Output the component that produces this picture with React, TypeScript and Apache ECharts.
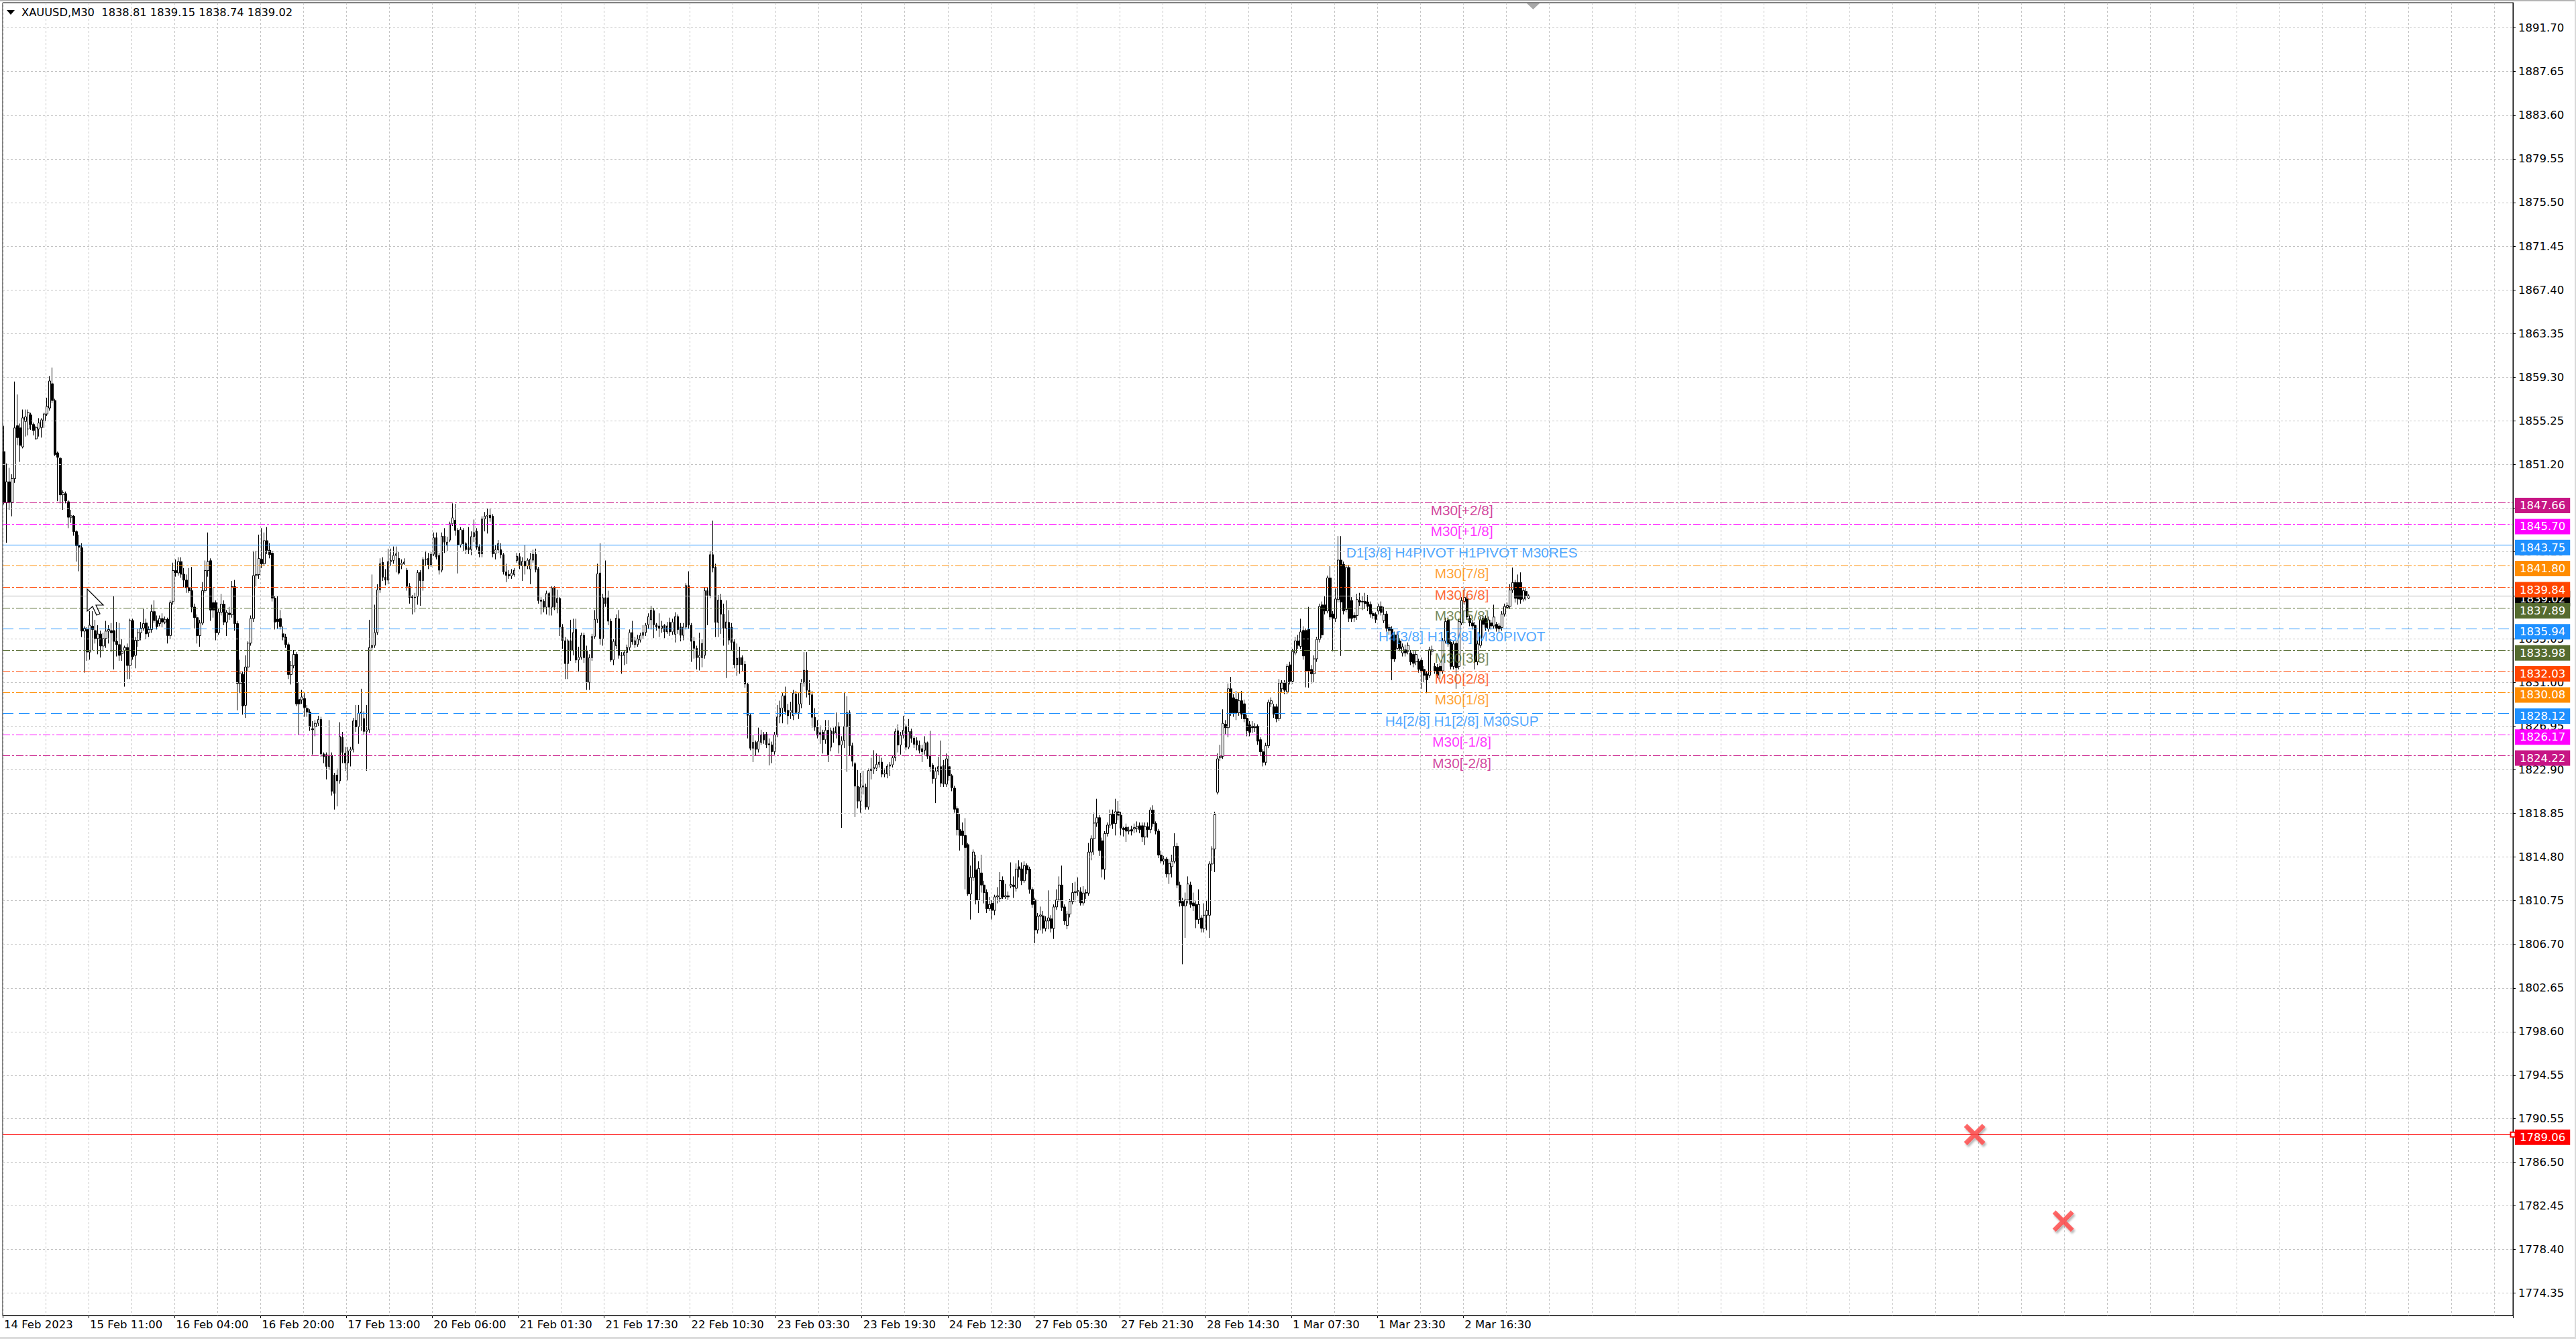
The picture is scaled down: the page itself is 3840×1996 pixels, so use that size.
import React, { useEffect, useRef } from 'react';
import * as echarts from 'echarts';

// ---------- data ----------
const header = 'XAUUSD,M30  1838.81 1839.15 1838.74 1839.02';

const dateLabels = ['14 Feb 2023', '15 Feb 11:00', '16 Feb 04:00', '16 Feb 20:00', '17 Feb 13:00', '20 Feb 06:00', '21 Feb 01:30', '21 Feb 17:30', '22 Feb 10:30', '23 Feb 03:30', '23 Feb 19:30', '24 Feb 12:30', '27 Feb 05:30', '27 Feb 21:30', '28 Feb 14:30', '1 Mar 07:30', '1 Mar 23:30', '2 Mar 16:30'];

const yTicks = [1891.70, 1887.65, 1883.60, 1879.55, 1875.50, 1871.45, 1867.40, 1863.35, 1859.30, 1855.25, 1851.20, 1847.15, 1843.10, 1839.05, 1835.05, 1831.00, 1826.95, 1822.90, 1818.85, 1814.80, 1810.75, 1806.70, 1802.65, 1798.60, 1794.55, 1790.55, 1786.50, 1782.45, 1778.40, 1774.35];

// [open, close, low, high]
const candlesA = [
[1852.4,1847.7,1847.5,1854.8],[1847.7,1849.6,1843.95,1851.3],[1849.6,1847.7,1847.0,1850.9],[1847.7,1849.9,1846.4,1850.3],[1849.9,1854.6,1849.5,1858.9],
[1854.8,1853.7,1853.0,1857.7],[1854.6,1852.98,1851.45,1855.0],[1852.84,1855.53,1852.7,1856.3],[1855.2,1855.62,1853.8,1856.3],[1854.5,1856.03,1853.9,1856.3],
[1855.81,1854.92,1854.4,1856.0],[1854.92,1854.36,1853.9,1855.1],[1853.59,1854.64,1853.5,1854.8],[1854.5,1855.06,1853.8,1855.5],[1854.64,1855.34,1853.7,1855.5],
[1855.25,1855.89,1854.6,1856.0],[1855.89,1856.59,1855.7,1857.4],[1856.45,1858.95,1856.2,1859.4],[1858.7,1857.14,1856.9,1860.2],[1857.14,1852.14,1852.0,1857.3],
[1852.28,1851.87,1847.8,1852.4],[1851.78,1848.39,1847.6,1851.9],[1848.39,1848.59,1847.0,1848.8],[1848.5,1847.84,1847.6,1848.7],[1847.75,1846.31,1845.3,1847.9],
[1846.31,1846.45,1845.8,1847.0],[1846.4,1844.98,1844.6,1846.5],[1844.98,1843.67,1842.2,1845.1],[1843.67,1843.53,1841.3,1844.7],[1843.48,1835.75,1835.2,1843.9],
[1835.75,1836.03,1831.9,1836.2],[1835.9,1833.81,1833.0,1836.1],[1833.81,1836.3,1833.1,1837.6],[1836.2,1835.9,1834.0,1837.6],[1835.8,1835.06,1834.6,1836.8],
[1835.06,1835.48,1833.6,1836.3],[1835.48,1834.37,1833.3,1835.8],[1834.37,1835.06,1833.9,1835.6],[1835.06,1835.75,1834.2,1836.7],[1835.75,1835.9,1834.6,1836.3],
[1835.8,1835.6,1833.8,1836.5],[1835.8,1834.8,1832.2,1839.0],[1834.8,1834.5,1833.4,1836.6],[1834.5,1833.5,1833.0,1836.5],[1833.67,1833.87,1833.0,1835.0],
[1833.95,1834.23,1830.6,1834.4],[1834.23,1832.56,1831.3,1834.6],[1832.56,1836.73,1831.3,1836.9],[1836.73,1833.4,1833.1,1836.9],[1833.5,1834.9,1832.3,1835.2],
[1834.9,1835.6,1834.3,1836.0],[1835.6,1836.03,1834.9,1836.6],[1836.03,1836.45,1835.8,1837.8],[1836.5,1835.5,1835.0,1836.9],[1835.6,1835.9,1835.2,1836.2],
[1835.9,1837.56,1835.6,1838.2],[1837.56,1836.73,1836.5,1838.6],[1836.73,1836.17,1835.9,1837.2],[1836.45,1836.92,1836.2,1837.2],[1836.92,1836.59,1836.1,1837.4],
[1836.59,1836.81,1836.4,1837.1],[1836.86,1835.34,1834.6,1837.0],[1835.34,1838.39,1835.0,1838.6],[1838.48,1841.37,1838.2,1842.1],[1841.37,1841.17,1840.8,1842.4],
[1841.15,1842.2,1840.9,1842.6],[1842.2,1841.03,1840.7,1842.6],[1841.03,1840.48,1839.8,1841.6],[1840.48,1839.78,1839.3,1841.0],[1839.78,1839.5,1839.3,1841.6],
[1839.5,1837.98,1837.5,1841.7],[1837.98,1837.0,1836.0,1838.3],[1837.0,1835.34,1834.6,1837.3],[1835.34,1836.5,1834.3,1836.8],[1836.5,1839.5,1836.3,1840.3],
[1839.5,1841.37,1839.3,1842.3],[1841.37,1842.2,1840.8,1844.9],[1842.28,1837.7,1836.7,1842.5],[1838.4,1837.7,1837.0,1839.8],[1838.39,1835.6,1834.9,1838.6],
[1835.6,1837.5,1835.4,1837.8],[1837.5,1838.25,1837.2,1839.2],[1838.25,1836.59,1836.3,1838.6],[1836.59,1837.48,1835.3,1837.7],[1837.42,1837.28,1836.8,1838.0],
[1837.28,1839.87,1837.0,1840.4],[1839.87,1836.45,1835.8,1840.5],[1836.45,1830.9,1828.4,1836.7],[1830.9,1831.87,1830.0,1833.1],[1831.73,1828.81,1828.0,1832.0],
[1828.87,1832.42,1827.7,1833.5],[1832.42,1834.64,1832.0,1834.8],[1834.64,1836.92,1834.4,1837.2],[1836.92,1840.9,1836.6,1843.2],[1840.9,1841.0,1839.9,1843.2],
[1841.0,1842.48,1840.6,1844.7],[1842.42,1842.0,1841.6,1845.3],[1842.0,1844.14,1841.8,1844.9],[1844.14,1843.25,1842.9,1845.4],[1843.25,1842.84,1842.5,1843.9],
[1842.98,1838.81,1838.5,1843.2],[1838.81,1836.59,1835.9,1839.0],[1836.86,1836.64,1836.0,1839.0],[1836.92,1836.17,1835.9,1837.7],[1835.5,1835.2,1834.9,1836.2],
[1835.2,1834.5,1834.2,1835.5],[1834.5,1831.73,1831.3,1834.7],[1831.73,1832.56,1830.8,1833.0],[1832.56,1833.59,1832.3,1834.0],[1833.59,1829.0,1828.8,1833.8],
[1829.4,1829.0,1826.1,1831.0],[1829.37,1829.64,1829.0,1830.3],[1829.5,1828.67,1827.8,1830.0],[1828.58,1828.25,1827.8,1828.9],[1828.25,1826.87,1826.5,1828.5],
[1826.7,1826.6,1824.3,1827.4],[1826.87,1827.2,1826.0,1827.5],[1827.2,1827.56,1826.9,1827.9],[1827.56,1824.36,1824.1,1827.8],[1824.36,1824.09,1823.5,1824.5],
[1824.3,1823.2,1822.0,1824.5],[1823.2,1824.23,1822.9,1827.5],[1824.23,1820.9,1820.5,1824.5],[1822.4,1820.7,1819.2,1822.6],[1822.4,1821.86,1819.5,1823.0],
[1821.86,1825.98,1821.6,1827.3],[1825.9,1824.5,1823.5,1826.4],[1824.42,1823.53,1822.8,1825.0],[1823.53,1824.64,1821.9,1825.0],[1824.64,1824.78,1823.2,1825.0],
[1824.78,1827.42,1824.5,1827.7],[1827.48,1826.87,1826.4,1828.9],[1826.87,1828.12,1825.3,1828.9],[1828.12,1828.25,1826.5,1830.4],[1827.64,1826.45,1826.1,1828.3],
[1826.45,1826.59,1822.8,1828.9],[1826.59,1834.23,1826.3,1836.8],[1834.23,1834.42,1834.0,1841.0],[1834.42,1835.62,1834.2,1838.2],[1835.62,1839.59,1835.4,1840.1],
[1839.59,1842.0,1839.3,1842.5],[1842.14,1840.75,1840.4,1842.6],[1840.75,1840.48,1840.0,1841.5],[1840.48,1842.2,1840.1,1843.4]
];

const candlesB = [
[1842.2,1842.3,1841.8,1843.4],[1842.3,1842.77,1842.0,1843.6],[1842.77,1842.92,1841.2,1843.6],[1842.5,1841.14,1841.0,1843.1],[1841.9,1842.07,1841.5,1842.4],
[1842.0,1842.16,1841.9,1842.5],[1841.4,1839.9,1839.5,1841.6],[1839.9,1838.85,1838.3,1840.2],[1838.93,1838.85,1837.3,1839.1],[1838.9,1838.85,1837.5,1839.3],
[1838.95,1841.18,1838.2,1841.4],[1841.2,1840.44,1838.1,1841.4],[1840.44,1842.38,1839.5,1842.6],[1842.38,1842.44,1841.8,1843.2],[1842.5,1841.9,1841.5,1843.0],
[1841.9,1842.88,1841.7,1843.1],[1842.88,1844.41,1842.7,1844.9],[1844.41,1842.62,1842.4,1844.9],[1842.77,1841.4,1841.0,1843.0],[1841.4,1844.56,1841.2,1844.9],
[1844.56,1844.0,1843.0,1845.3],[1843.7,1844.0,1843.2,1844.5],[1844.19,1845.7,1844.0,1845.9],[1845.7,1846.26,1845.5,1847.6],[1846.04,1845.1,1844.6,1847.55],
[1845.1,1843.75,1841.1,1845.3],[1843.75,1845.17,1843.5,1845.4],[1845.1,1843.86,1843.2,1845.3],[1843.86,1843.32,1842.9,1844.0],[1843.5,1843.27,1842.9,1845.4],
[1843.32,1844.52,1842.8,1845.0],[1844.52,1844.89,1844.0,1846.1],[1845.02,1843.53,1843.3,1845.3],[1843.58,1842.92,1842.6,1843.8],[1842.92,1846.15,1842.6,1846.4],
[1846.15,1846.41,1845.0,1846.8],[1846.4,1846.5,1844.8,1847.1],[1846.5,1846.26,1845.9,1847.1],[1846.41,1842.92,1842.6,1846.6],[1842.92,1843.3,1842.4,1843.7],
[1843.3,1843.86,1843.0,1844.2],[1843.3,1842.84,1842.5,1843.9],[1842.84,1841.24,1841.0,1843.0],[1841.24,1840.92,1840.3,1842.0],[1841.0,1840.87,1840.6,1841.4],
[1840.87,1841.14,1840.6,1841.5],[1841.0,1841.4,1840.8,1841.6],[1842.3,1842.7,1842.1,1843.0],[1842.66,1841.83,1841.5,1843.0],[1841.8,1842.22,1840.4,1842.6],
[1842.22,1841.79,1841.0,1843.7],[1841.79,1842.33,1841.5,1842.5],[1841.5,1842.44,1840.1,1843.0],[1842.33,1842.88,1842.1,1843.3],[1842.88,1841.46,1841.2,1843.4],
[1841.53,1838.58,1838.3,1841.7],[1838.63,1838.52,1837.3,1838.9],[1838.52,1837.97,1837.5,1838.7],[1837.97,1839.24,1837.3,1839.5],[1839.24,1837.97,1837.2,1839.4],
[1837.97,1839.76,1837.2,1839.9],[1839.82,1837.97,1837.7,1839.9],[1838.4,1838.78,1837.4,1839.6],[1838.78,1836.12,1835.3,1838.9],[1836.12,1834.86,1834.1,1836.4],
[1834.86,1832.74,1831.3,1835.2],[1832.74,1834.86,1831.3,1835.0],[1834.86,1833.94,1833.0,1836.8],[1833.94,1835.62,1833.5,1836.9],[1835.9,1833.07,1832.8,1836.9],
[1833.07,1833.33,1832.0,1834.3],[1833.33,1835.36,1833.1,1835.6],[1835.36,1833.29,1832.8,1835.6],[1833.94,1831.0,1830.3,1834.4],[1831.0,1833.29,1830.3,1833.6],
[1833.29,1835.25,1833.0,1835.5],[1835.25,1836.84,1835.0,1837.7],[1836.84,1841.07,1836.5,1842.0],[1841.14,1835.03,1834.5,1843.9],[1835.03,1838.85,1834.4,1839.2],
[1838.85,1838.3,1838.0,1842.3],[1838.85,1836.67,1836.3,1839.5],[1836.67,1833.07,1832.9,1836.9],[1833.07,1834.8,1832.6,1835.0],[1834.4,1836.95,1834.1,1837.3],
[1836.9,1833.5,1833.2,1837.7],[1833.5,1833.46,1831.8,1833.8],[1833.5,1833.77,1832.6,1834.0],[1833.77,1834.23,1832.7,1834.5],[1834.23,1835.62,1834.0,1835.9],
[1835.62,1834.75,1834.5,1836.7],[1834.5,1834.86,1834.2,1835.2],[1834.5,1835.03,1834.3,1835.4],[1834.92,1835.36,1834.7,1835.6],[1835.36,1835.62,1835.0,1836.3],
[1835.62,1836.3,1835.3,1836.5],[1836.34,1837.1,1836.0,1837.4],[1836.8,1837.69,1835.9,1838.1],[1837.65,1836.34,1835.1,1837.9],[1836.34,1836.12,1835.8,1836.5],
[1836.23,1836.01,1835.2,1837.4],[1836.01,1836.23,1835.6,1836.7],[1836.27,1835.68,1835.1,1836.4],[1835.68,1836.23,1835.5,1836.6],[1836.56,1835.68,1835.3,1837.0],
[1835.68,1836.6,1835.4,1836.9],[1835.45,1837.1,1834.7,1837.5],[1837.1,1835.9,1835.5,1837.3],[1836.16,1835.36,1834.8,1836.5],[1835.36,1836.12,1834.9,1836.5],
[1836.12,1839.98,1835.9,1840.2],[1839.98,1836.3,1836.0,1841.3],[1836.3,1834.8,1832.9,1836.5],[1834.8,1834.16,1833.2,1835.2],[1834.16,1833.29,1832.2,1834.4],
[1833.3,1833.5,1832.1,1835.6],[1833.29,1834.6,1832.4,1835.0],[1833.5,1839.5,1833.2,1839.8],[1839.5,1839.07,1836.3,1839.8],[1839.07,1842.84,1838.8,1843.2],
[1842.84,1841.6,1841.2,1846.0],[1841.68,1836.56,1835.2,1842.0],[1836.56,1838.63,1835.2,1839.1],[1838.63,1837.32,1835.5,1839.2],[1837.32,1836.01,1834.4,1838.3],
[1836.01,1836.6,1831.4,1838.6],[1836.56,1834.92,1834.5,1837.7],[1836.12,1834.7,1834.0,1836.5],[1834.75,1832.63,1832.3,1835.0],[1832.63,1833.24,1831.6,1834.6],
[1833.29,1832.63,1831.8,1834.3],[1833.29,1832.63,1832.0,1833.5],[1832.67,1830.84,1830.5,1833.0],[1830.84,1827.94,1825.8,1831.0],[1827.94,1824.89,1824.7,1828.1],
[1824.89,1825.43,1823.6,1826.1],[1825.43,1824.78,1824.2,1825.6],[1824.78,1825.54,1824.5,1826.8],[1825.43,1826.15,1825.2,1826.6],[1826.2,1825.65,1825.3,1826.4],
[1826.2,1825.2,1824.9,1826.4],[1825.3,1825.2,1823.3,1825.8],[1825.2,1824.57,1823.5,1825.5],[1824.57,1826.15,1824.3,1826.4],[1826.15,1827.79,1825.9,1828.9]
];

const candlesC = [
[1827.85,1828.6,1827.2,1829.3],[1828.6,1829.76,1827.2,1830.0],[1829.76,1828.3,1828.0,1830.6],[1828.4,1827.9,1827.1,1829.0],[1828.2,1828.4,1827.6,1829.2],
[1827.9,1830.0,1827.5,1830.3],[1829.9,1828.2,1828.0,1830.2],[1828.2,1829.0,1827.6,1830.0],[1829.0,1830.95,1828.6,1831.3],[1830.95,1832.12,1830.6,1833.8],
[1832.12,1830.26,1829.6,1833.8],[1830.26,1829.84,1828.9,1831.2],[1829.84,1827.76,1826.8,1830.2],[1827.76,1826.84,1826.5,1828.6],[1826.84,1826.09,1825.8,1827.5],
[1826.34,1826.17,1825.3,1827.0],[1826.37,1825.67,1824.4,1826.6],[1825.67,1826.56,1825.3,1827.5],[1826.56,1824.29,1823.6,1827.5],[1824.98,1826.51,1824.6,1826.8],
[1826.45,1826.23,1825.4,1826.8],[1826.3,1826.9,1825.8,1828.2],[1826.9,1825.18,1824.4,1827.3],[1825.18,1825.6,1817.5,1826.0],[1825.6,1826.9,1824.9,1830.1],
[1826.9,1828.18,1822.7,1829.7],[1828.18,1825.12,1824.2,1828.4],[1825.12,1823.68,1823.2,1825.4],[1823.46,1821.37,1818.5,1823.6],[1821.37,1819.98,1819.3,1822.9],
[1819.98,1821.29,1818.9,1822.6],[1821.29,1821.4,1820.6,1822.8],[1821.29,1819.43,1819.2,1821.6],[1819.43,1822.82,1819.2,1823.0],[1822.82,1822.96,1822.0,1824.0],
[1822.96,1823.1,1822.5,1824.7],[1823.04,1823.4,1822.8,1824.4],[1823.4,1823.6,1823.1,1824.2],[1823.6,1822.48,1822.2,1824.0],[1822.48,1822.6,1822.2,1823.0],
[1822.5,1823.23,1822.1,1823.4],[1823.23,1823.35,1822.3,1823.6],[1823.35,1824.01,1823.1,1824.2],[1824.01,1826.43,1823.7,1826.7],[1826.51,1825.18,1824.5,1827.1],
[1825.18,1826.09,1824.3,1826.4],[1826.09,1826.56,1825.8,1827.9],[1826.9,1824.98,1824.7,1827.1],[1824.98,1826.45,1824.8,1827.6],[1826.45,1825.81,1825.4,1826.7],
[1825.81,1825.26,1824.9,1826.0],[1825.6,1825.18,1824.7,1825.9],[1825.18,1824.7,1824.4,1825.6],[1824.85,1824.57,1823.6,1825.2],[1824.7,1825.4,1824.3,1826.0],
[1825.4,1824.15,1823.9,1825.5],[1824.15,1823.18,1822.7,1826.5],[1823.32,1822.06,1821.6,1823.5],[1822.06,1822.76,1819.8,1823.1],[1822.76,1823.18,1822.4,1824.1],
[1823.18,1821.65,1821.3,1825.6],[1823.3,1821.56,1821.3,1823.8],[1821.56,1823.9,1821.3,1824.4],[1823.18,1822.34,1821.9,1824.2],[1822.34,1821.23,1820.9,1822.5],
[1821.18,1819.23,1818.9,1821.4],[1819.29,1817.34,1816.8,1819.5],[1817.34,1816.8,1815.4,1818.8],[1817.2,1816.79,1815.9,1818.0],[1816.79,1815.68,1811.8,1818.4],
[1815.95,1811.37,1811.2,1816.1],[1811.37,1812.9,1809.0,1814.0],[1812.9,1815.26,1812.6,1815.5],[1813.6,1810.82,1810.4,1815.0],[1810.82,1813.73,1809.6,1814.4],
[1813.32,1812.2,1811.5,1815.0],[1812.2,1811.5,1810.5,1812.6],[1811.5,1810.0,1809.6,1811.8],[1810.0,1810.4,1809.8,1811.1],[1810.5,1809.85,1809.0,1810.8],
[1809.85,1811.1,1809.4,1811.3],[1811.1,1811.2,1810.5,1812.0],[1810.95,1812.62,1810.6,1813.4],[1812.62,1811.1,1810.9,1813.0],[1811.1,1811.2,1810.9,1812.3],
[1811.2,1811.1,1810.8,1811.6],[1812.1,1812.26,1811.9,1814.3],[1812.2,1812.06,1811.0,1813.0],[1811.9,1813.67,1811.6,1814.2],[1813.9,1813.65,1812.9,1814.5],
[1813.7,1812.6,1812.2,1814.3],[1812.6,1814.0,1812.4,1814.4],[1814.0,1813.6,1813.2,1814.2],[1813.67,1811.79,1811.4,1813.9],[1811.79,1810.4,1810.1,1812.0],
[1810.82,1808.04,1806.8,1811.0],[1808.04,1809.3,1807.7,1809.6],[1809.3,1809.42,1808.0,1810.2],[1809.34,1808.18,1807.7,1809.8],[1808.18,1808.87,1807.9,1809.3],
[1808.87,1809.15,1808.1,1811.7],[1809.06,1808.18,1807.8,1809.4],[1808.18,1810.17,1807.2,1810.4],[1810.17,1810.82,1809.9,1811.8],[1810.82,1812.2,1810.6,1813.0],
[1812.2,1810.12,1809.8,1814.0],[1810.17,1808.87,1808.5,1810.4],[1808.45,1809.51,1808.1,1809.8],[1809.51,1810.67,1809.2,1810.9],[1810.67,1811.5,1810.4,1812.4],
[1811.5,1811.6,1810.6,1812.5],[1811.6,1811.7,1811.2,1812.9],[1811.56,1810.54,1810.3,1812.0],[1810.54,1811.45,1810.3,1812.1],[1811.45,1811.5,1810.9,1811.8],
[1811.45,1815.26,1811.2,1816.1],[1815.26,1816.5,1814.5,1816.8],[1816.5,1817.95,1815.0,1818.9],[1817.95,1818.45,1817.6,1820.2],[1818.45,1815.4,1814.9,1818.7],
[1816.3,1813.67,1812.9,1816.6],[1813.67,1816.98,1812.7,1817.2],[1816.98,1817.76,1816.7,1818.0],[1817.76,1818.73,1817.5,1819.2],[1818.79,1817.9,1817.4,1819.2],
[1817.9,1819.0,1816.8,1820.2],[1819.0,1818.68,1818.2,1820.0],[1818.68,1817.48,1816.8,1819.0],[1817.48,1817.34,1816.7,1817.6],[1817.56,1817.2,1816.2,1817.9],
[1817.2,1817.3,1816.9,1817.6],[1817.34,1817.2,1816.8,1817.7],[1817.4,1817.53,1817.0,1817.9],[1817.48,1817.62,1817.1,1818.1],[1817.7,1817.34,1817.0,1818.0],
[1817.7,1816.65,1816.2,1818.0],[1816.65,1817.62,1815.9,1818.0],[1817.62,1817.34,1816.6,1818.0],[1817.34,1819.15,1817.0,1819.4],[1819.15,1817.9,1817.6,1819.6],
[1817.9,1817.2,1816.9,1818.1],[1817.2,1814.98,1814.7,1817.4],[1814.98,1814.43,1814.2,1815.4],[1814.43,1814.6,1814.1,1814.9],[1814.6,1813.23,1812.9,1814.8]
];

const candlesD = [
[1813.23,1814.2,1812.3,1814.6],[1813.9,1814.4,1812.9,1815.0],[1814.4,1815.8,1814.2,1817.0],[1815.8,1812.2,1811.9,1816.1],[1812.2,1810.54,1810.2,1812.5],
[1810.68,1810.26,1804.85,1811.0],[1810.26,1810.82,1807.3,1811.5],[1810.82,1812.3,1810.5,1813.0],[1812.2,1810.4,1810.1,1812.5],[1810.54,1810.26,1809.8,1811.5],
[1810.4,1809.0,1808.2,1810.7],[1809.0,1810.4,1808.6,1811.8],[1809.15,1808.18,1807.8,1809.4],[1808.18,1809.4,1807.8,1810.5],[1809.4,1809.84,1808.0,1810.8],
[1809.4,1814.15,1807.3,1814.4],[1814.15,1815.54,1813.5,1815.8],[1815.54,1818.73,1813.4,1819.0],[1820.8,1823.9,1820.6,1824.4],[1824.0,1824.15,1823.7,1825.2],
[1824.15,1827.2,1823.9,1828.5],[1827.12,1826.79,1826.2,1827.5],[1826.79,1830.4,1825.9,1830.9],[1830.4,1828.18,1827.9,1831.5],[1829.57,1828.18,1827.8,1829.9],
[1829.43,1828.18,1827.5,1830.2],[1828.18,1829.29,1827.9,1830.0],[1829.29,1828.04,1827.6,1830.2],[1829.01,1827.62,1827.3,1829.4],[1827.68,1826.51,1826.0,1828.0],
[1827.06,1826.37,1826.0,1827.4],[1826.93,1826.79,1826.3,1827.4],[1826.93,1826.79,1826.4,1827.2],[1826.93,1825.54,1825.2,1827.1],[1825.68,1824.56,1824.2,1825.9],
[1824.56,1823.59,1823.2,1824.8],[1823.59,1825.12,1823.3,1825.4],[1825.12,1829.15,1824.9,1829.4],[1829.01,1829.29,1828.7,1829.6],[1828.73,1828.04,1827.7,1829.0],
[1828.73,1827.62,1827.3,1829.0],[1827.62,1830.95,1827.4,1831.3],[1830.4,1830.95,1830.1,1831.2],[1830.95,1830.26,1829.9,1831.2],[1830.12,1832.48,1829.9,1832.7],
[1832.62,1831.09,1830.8,1832.9],[1831.09,1833.87,1830.9,1834.1],[1833.73,1834.84,1833.5,1835.2],[1834.84,1834.43,1834.1,1835.4],[1834.34,1835.68,1834.1,1836.9],
[1835.81,1833.45,1833.1,1836.2],[1835.81,1832.06,1830.54,1836.0],[1835.95,1832.06,1830.5,1838.0],[1832.2,1831.79,1830.9,1832.6],[1831.79,1833.18,1831.0,1833.5],
[1833.18,1834.98,1832.9,1835.2],[1834.98,1838.04,1834.7,1838.3],[1838.18,1835.4,1835.1,1838.5],[1838.18,1837.62,1837.3,1839.0],[1837.62,1840.68,1837.4,1840.9],
[1840.68,1837.06,1836.8,1841.8],[1837.34,1836.93,1833.87,1837.6],[1836.93,1838.73,1836.6,1839.7],[1838.68,1842.34,1838.4,1844.56],[1842.34,1838.45,1833.45,1844.56],
[1841.93,1837.62,1837.3,1842.2],[1837.76,1841.65,1837.5,1841.9],[1841.65,1836.93,1836.6,1841.9],[1838.59,1836.93,1836.6,1838.9],[1837.2,1837.01,1836.6,1837.5],
[1837.2,1838.68,1836.8,1839.2],[1838.59,1838.45,1838.1,1839.3],[1838.51,1838.45,1837.7,1839.0],[1838.51,1838.31,1837.8,1839.3],[1838.45,1838.04,1837.6,1839.1],
[1838.23,1837.34,1837.0,1838.5],[1837.4,1837.2,1836.9,1837.6],[1837.29,1836.84,1836.5,1837.5],[1837.62,1838.04,1837.3,1838.3],[1838.04,1837.48,1837.2,1838.5],
[1836.73,1837.29,1836.5,1838.0],[1837.34,1836.01,1835.7,1837.6],[1836.09,1835.81,1835.4,1836.4],[1835.95,1833.18,1831.2,1836.2],[1835.4,1833.18,1832.9,1835.7],
[1834.15,1835.4,1833.9,1835.7],[1834.84,1834.15,1833.9,1835.1],[1833.73,1834.29,1833.4,1834.6],[1834.01,1833.73,1833.4,1834.5],[1833.87,1834.43,1833.6,1834.7],
[1833.73,1832.9,1832.6,1834.0],[1833.59,1832.76,1832.4,1833.9],[1832.9,1833.59,1832.6,1833.9],[1832.95,1832.2,1831.9,1833.2],[1833.04,1832.06,1830.4,1833.3],
[1832.2,1831.65,1831.0,1832.5],[1831.79,1831.23,1830.0,1832.0],[1831.65,1834.01,1831.4,1834.3],[1833.87,1834.01,1833.5,1834.4],[1832.48,1832.06,1831.8,1832.8],
[1832.4,1831.65,1831.4,1832.7],[1832.48,1832.06,1831.3,1832.8],[1832.06,1834.84,1831.8,1835.1],[1834.84,1836.65,1834.6,1837.0],[1836.79,1834.56,1834.3,1837.1],
[1834.7,1832.48,1832.2,1835.0],[1832.48,1834.56,1832.2,1834.8],[1834.62,1832.34,1830.4,1834.9],[1832.48,1836.65,1832.2,1836.9],[1836.51,1838.59,1836.3,1838.9],
[1838.51,1838.87,1838.2,1839.8],[1838.73,1837.06,1836.8,1839.0],[1836.93,1836.51,1836.2,1837.2],[1836.51,1836.23,1835.9,1836.8],[1836.29,1832.9,1832.2,1836.6],
[1832.9,1834.56,1832.6,1834.9],[1834.43,1836.79,1834.2,1837.1],[1836.93,1836.37,1835.1,1837.2],[1836.93,1836.09,1835.8,1837.2],[1835.95,1836.79,1835.7,1837.1],
[1836.51,1836.23,1835.9,1836.8],[1836.23,1837.06,1836.0,1838.2],[1836.37,1836.01,1835.7,1836.6],[1836.23,1835.95,1835.6,1836.5],[1836.09,1837.34,1835.8,1837.6],
[1837.34,1838.04,1837.1,1838.3],[1837.95,1838.12,1837.8,1838.4],[1838.04,1839.57,1837.8,1840.1],[1839.57,1840.26,1839.3,1841.65],[1840.26,1838.79,1838.4,1840.5],
[1840.26,1838.73,1838.2,1841.0],[1840.26,1838.68,1838.3,1841.2],[1838.73,1839.51,1838.5,1839.8],[1839.43,1839.01,1838.6,1839.7],[1838.81,1839.02,1838.74,1839.15]
];

const levelValues = [1847.66, 1845.70, 1843.75, 1841.80, 1839.84, 1837.89, 1835.94, 1833.98, 1832.03, 1830.08, 1828.12, 1826.17, 1824.22];
const levelNames = ['M30[+2/8]', 'M30[+1/8]', 'D1[3/8] H4PIVOT H1PIVOT M30RES', 'M30[7/8]', 'M30[6/8]', 'M30[5/8]', 'H4[3/8] H1[3/8] M30PIVOT', 'M30[3/8]', 'M30[2/8]', 'M30[1/8]', 'H4[2/8] H1[2/8] M30SUP', 'M30[-1/8]', 'M30[-2/8]'];
const levelColors = ['#C71585', '#FF00FF', '#1E90FF', '#FF8C00', '#FF4500', '#556B2F', '#1E90FF', '#556B2F', '#FF4500', '#FF8C00', '#1E90FF', '#FF00FF', '#C71585'];
const levelKinds = ['dashdot', 'dashdot', 'solid', 'dashdot', 'dashdot', 'dashdot', 'dash', 'dashdot', 'dashdot', 'dashdot', 'dash', 'dashdot', 'dashdot'];
const levelLabelBar = 543;

const bidPrice = 1839.02;
const stopPrice = 1789.06;
const crossPoints = [[734, 1789.06], [767, 1781.03]];

// ---------- layout / style ----------
const W = 3840;
const H = 1996;
const GRID = { left: 4, top: 4, right: 94, bottom: 35 };
const SLOTS = 935;
const BARS_PER_LABEL = 32;
const BARS_PER_GRID = 16;
const LAST_LABEL_INDEX = (dateLabels.length - 1) * BARS_PER_LABEL;
const Y_MIN = 1772.27;
const Y_MAX = 1894.04;
const PX_PER_UNIT = (H - GRID.top - GRID.bottom) / (Y_MAX - Y_MIN);
const TAG_DROP_PX = 4; // price tags sit slightly below their line
const AXIS_FONT = '"DejaVu Sans", Verdana, sans-serif';
const TEXT_FONT = '"Liberation Sans", Arial, sans-serif';
const dashes: Record<string, any> = {
  solid: 'solid',
  dash: [16, 8],
  dashdot: [11, 3, 3, 3],
};

export default function App() {
  const ref = useRef<HTMLDivElement>(null);

  useEffect(() => {
    if (!ref.current) return;
    const chart = echarts.init(ref.current, null, { renderer: 'svg' });
    const ohlc = [...candlesA, ...candlesB, ...candlesC, ...candlesD];
    const cats = Array.from({ length: SLOTS }, (_, i) => String(i));
    const tagY = (v: number) => v - TAG_DROP_PX / PX_PER_UNIT;
    const invisible = { color: 'rgba(255,255,255,0)', width: 1, type: 'solid', opacity: 1 };

    const tagLabel = (bg: string, text: string) => ({
      show: true,
      position: 'end',
      distance: 3,
      formatter: text,
      color: '#FFFFFF',
      backgroundColor: bg,
      padding: [3, 7, 3, 7],
      fontFamily: AXIS_FONT,
      fontSize: 16.5,
      lineHeight: 17,
      opacity: 1,
    });

    const tagSeries = (name: string, z: number, items: { v: number; bg: string }[]) => ({
      name,
      type: 'line',
      data: [],
      z,
      silent: true,
      clip: false,
      markLine: {
        silent: true,
        symbol: 'none',
        lineStyle: invisible,
        data: items.map((it) => ({
          yAxis: tagY(it.v),
          lineStyle: invisible,
          label: tagLabel(it.bg, it.v.toFixed(2)),
        })),
      },
    });

    const option: any = {
      animation: false,
      backgroundColor: '#FFFFFF',
      textStyle: { fontFamily: AXIS_FONT },
      grid: {
        ...GRID,
        show: true, borderColor: '#000000', borderWidth: 1, backgroundColor: '#FFFFFF',
      },
      xAxis: {
        type: 'category',
        data: cats,
        boundaryGap: true,
        axisLine: { show: true, lineStyle: { color: '#000000', width: 1 } },
        axisTick: {
          show: true, length: 4,
          interval: (i: number) => i % BARS_PER_LABEL === 0 && i <= LAST_LABEL_INDEX,
          lineStyle: { color: '#000000' },
        },
        axisLabel: {
          show: true,
          interval: (i: number) => i % BARS_PER_LABEL === 0 && i <= LAST_LABEL_INDEX,
          formatter: (_v: string, i: number) => dateLabels[Math.round(i / BARS_PER_LABEL)] || '',
          align: 'left',
          margin: 5,
          color: '#000000',
          fontFamily: AXIS_FONT,
          fontSize: 16.5,
        },
        splitLine: {
          show: true,
          interval: (i: number) => i % BARS_PER_GRID === 0,
          lineStyle: { color: '#C4C4C4', type: [3, 3], width: 1 },
        },
      },
      yAxis: {
        type: 'value',
        position: 'right',
        min: Y_MIN,
        max: Y_MAX,
        scale: true,
        axisLine: { show: true, lineStyle: { color: '#000000', width: 1 } },
        axisTick: { show: true, length: 4, customValues: yTicks, lineStyle: { color: '#000000' } },
        axisLabel: {
          show: true,
          customValues: yTicks,
          formatter: (v: number) => v.toFixed(2),
          margin: 8,
          color: '#000000',
          fontFamily: AXIS_FONT,
          fontSize: 16.5,
        },
        splitLine: { show: false },
      },
      series: [
        {
          name: 'hgrid',
          type: 'line',
          data: [],
          z: 1,
          silent: true,
          clip: false,
          markLine: {
            silent: true,
            symbol: 'none',
            label: { show: false },
            lineStyle: { color: '#C4C4C4', type: [3, 3], width: 1 },
            data: yTicks.map((v) => ({ yAxis: v })),
          },
        },
        {
          name: 'candles',
          type: 'candlestick',
          data: ohlc,
          z: 2,
          barWidth: 3,
          large: false,
          silent: true,
          itemStyle: {
            color: '#FFFFFF',
            color0: '#000000',
            borderColor: '#000000',
            borderColor0: '#000000',
            borderWidth: 1,
          },
        },
        {
          name: 'bidLine',
          type: 'line',
          data: [],
          z: 3,
          silent: true,
          clip: false,
          markLine: {
            silent: true,
            symbol: 'none',
            label: { show: false },
            data: [{ yAxis: bidPrice, lineStyle: { color: '#B4B4B4', type: 'solid', width: 1 } }],
          },
        },
        tagSeries('bidTag', 3, [{ v: bidPrice, bg: '#000000' }]),
        {
          name: 'levels',
          type: 'line',
          data: [],
          z: 4,
          silent: true,
          clip: false,
          markLine: {
            silent: true,
            symbol: 'none',
            label: { show: false },
            data: levelValues.map((v, i) => ({
              yAxis: v,
              lineStyle: { color: levelColors[i], type: dashes[levelKinds[i]], width: 1 },
            })),
          },
        },
        tagSeries('levelTags', 4, levelValues.map((v, i) => ({ v, bg: levelColors[i] }))),
        {
          name: 'stop',
          type: 'line',
          data: [],
          z: 4,
          silent: true,
          clip: false,
          markLine: {
            silent: true,
            symbol: ['none', 'emptyRect'],
            symbolSize: 7,
            label: { show: false },
            data: [{ yAxis: stopPrice, lineStyle: { color: '#FF0000', type: 'solid', width: 1 } }],
          },
        },
        tagSeries('stopTag', 4, [{ v: stopPrice, bg: '#FF0000' }]),
        {
          name: 'levelNames',
          type: 'scatter',
          z: 5,
          silent: true,
          symbolSize: 1,
          itemStyle: { color: 'rgba(0,0,0,0)' },
          label: {
            show: true,
            position: 'bottom',
            distance: 0,
            fontFamily: TEXT_FONT,
            fontSize: 20.8,
            lineHeight: 21,
          },
          data: levelValues.map((v, i) => ({
            value: [levelLabelBar, v],
            label: { formatter: levelNames[i], color: levelColors[i] },
          })),
        },
        {
          name: 'crosses',
          type: 'scatter',
          z: 6,
          silent: true,
          symbol: 'path://M3,0 L10,7 L17,0 L20,3 L13,10 L20,17 L17,20 L10,13 L3,20 L0,17 L7,10 L0,3 Z',
          symbolSize: 32,
          itemStyle: {
            color: '#FF4545',
            shadowBlur: 3,
            shadowColor: 'rgba(0,0,0,0.35)',
            shadowOffsetX: 2,
            shadowOffsetY: 3,
          },
          data: crossPoints,
        },
      ],
      graphic: [
        { type: 'rect', silent: true, z: 10, shape: { x: 0, y: 0, width: W, height: 2 }, style: { fill: '#B4B4B4' } },
        { type: 'rect', silent: true, z: 10, shape: { x: W - 2, y: 0, width: 2, height: H }, style: { fill: '#D8D8D8' } },
        { type: 'rect', silent: true, z: 10, shape: { x: 0, y: H - 3, width: W, height: 3 }, style: { fill: '#DCDCDC' } },
        { type: 'polygon', silent: true, z: 10, shape: { points: [[10, 15], [22, 15], [16, 22]] }, style: { fill: '#000000' } },
        {
          type: 'text', silent: true, z: 10, x: 32, y: 10,
          style: { text: header, fill: '#000000', font: '16.3px "DejaVu Sans", Verdana, sans-serif', textVerticalAlign: 'top' },
        },
        { type: 'polygon', silent: true, z: 10, shape: { points: [[2276, 5], [2295, 5], [2285.5, 14]] }, style: { fill: '#A8A8A8' } },
        {
          type: 'polygon', silent: true, z: 10,
          shape: { points: [[130, 878], [130, 911], [138, 904], [144, 917], [149, 915], [143, 902], [154, 902]] },
          style: { fill: '#FFFFFF', stroke: '#000000', lineWidth: 1.2 },
        },
      ],
    };

    chart.setOption(option);
    return () => chart.dispose();
  }, []);

  return (
    <div
      ref={ref}
      style={{ position: 'fixed', left: 0, top: 0, width: W, height: H, background: '#FFFFFF' }}
    />
  );
}
